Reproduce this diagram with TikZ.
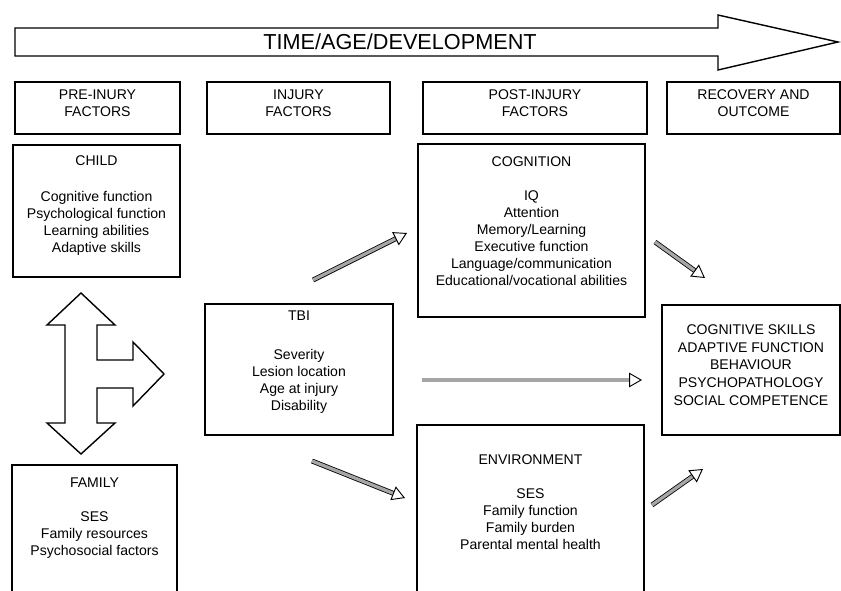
\documentclass[tikz,border=0pt]{standalone}
\usepackage{fontspec}
\setmainfont{Liberation Sans}
\usetikzlibrary{arrows.meta,fit,positioning}

\begin{document}
\begin{tikzpicture}[
    x = 0.3mm, y = -0.3mm,
    box/.style = {draw, line width = 1.2pt, inner sep = 0},
    txt/.style = {align = center, inner sep = 0, font = \fontsize{12}{14.5}\selectfont},
    bigarrow/.style = {draw, line width = 1.2pt, line join = miter},
    hollow/.style = {double = black!35, double distance = 2.8pt, line width = 0.7pt,
      -{Triangle[open, length = 11pt, width = 12.5pt, line width = 0.8pt]}}
  ]
  \clip (0,0) rectangle (841,591);

  % time line
  \draw[bigarrow] (15,28) -- (718,28) -- (718,15) -- (838,42) -- (718,70) -- (718,56) -- (15,56) -- cycle;
  \node[inner sep = 0, font = \fontsize{18.5}{22}\selectfont] (time) at (400,42) {TIME/AGE/DEVELOPMENT};

  % column headers
  \node[box, txt, fit = {(15,82) (180,134)}] (hpre) {PRE-INURY\\FACTORS};
  \node[box, txt, fit = {(207,82) (390,134)}] (hinj) {INJURY\\FACTORS};
  \node[box, txt, fit = {(423,82) (647,134)}] (hpost) {POST-INJURY\\FACTORS};
  \node[box, txt, fit = {(667,82) (840,134)}] (hrec) {RECOVERY AND\\OUTCOME};

  % factor boxes
  \node[box, fit = {(13,145) (180,277)}] (child) {};
  \node[txt, below = 3.3mm of child.north] (childtxt) {CHILD\\[16pt]Cognitive function\\Psychological function\\Learning abilities\\Adaptive skills};

  \node[box, fit = {(12,465) (177,600)}] (family) {};
  \node[txt, below = 3.9mm of family.north] (familytxt) {FAMILY\\[15pt]SES\\Family resources\\Psychosocial factors};

  \node[box, fit = {(205,304) (393,435)}] (tbi) {};
  \node[txt, below = 2.1mm of tbi.north] (tbitxt) {TBI\\[19pt]Severity\\Lesion location\\Age at injury\\Disability};

  \node[box, fit = {(418,144) (645,317)}] (cog) {};
  \node[txt, below = 3.9mm of cog.north] (cogtxt) {COGNITION\\[14.5pt]IQ\\Attention\\Memory/Learning\\Executive function\\Language/communication\\Educational/vocational abilities};

  \node[box, fit = {(417,425) (644,600)}] (env) {};
  \node[txt, below = 9mm of env.north] (envtxt) {ENVIRONMENT\\[15pt]SES\\Family function\\Family burden\\Parental mental health};

  \node[box, txt, font = \fontsize{12}{15}\selectfont, fit = {(662,305) (840,435)}] (out) {COGNITIVE SKILLS\\ADAPTIVE FUNCTION\\BEHAVIOUR\\PSYCHOPATHOLOGY\\SOCIAL COMPETENCE};

  % child <-> family -> injury
  \draw[bigarrow] (81,293) -- (115,325) -- (97,325) -- (97,360) -- (133,360) -- (133,342)
    -- (164,374) -- (133,406) -- (133,388) -- (97,388) -- (97,423) -- (115,423)
    -- (81,454) -- (47,423) -- (65,423) -- (65,325) -- (47,325) -- cycle;

  % links
  \coordinate (tbicog-s) at (313,280);
  \coordinate (tbicog-e) at (407,233);
  \coordinate (cogout-s) at (655,242);
  \coordinate (cogout-e) at (705,278);
  \coordinate (tbiout-s) at (422,380);
  \coordinate (tbiout-e) at (642,380);
  \coordinate (tbienv-s) at (312,461);
  \coordinate (tbienv-e) at (405,498);
  \coordinate (envout-s) at (652,505);
  \coordinate (envout-e) at (703,469);

  \draw[hollow] (tbicog-s) -- (tbicog-e);
  \draw[hollow] (cogout-s) -- (cogout-e);
  \draw[hollow] (tbiout-s) -- (tbiout-e);
  \draw[hollow] (tbienv-s) -- (tbienv-e);
  \draw[hollow] (envout-s) -- (envout-e);
\end{tikzpicture}
\end{document}
